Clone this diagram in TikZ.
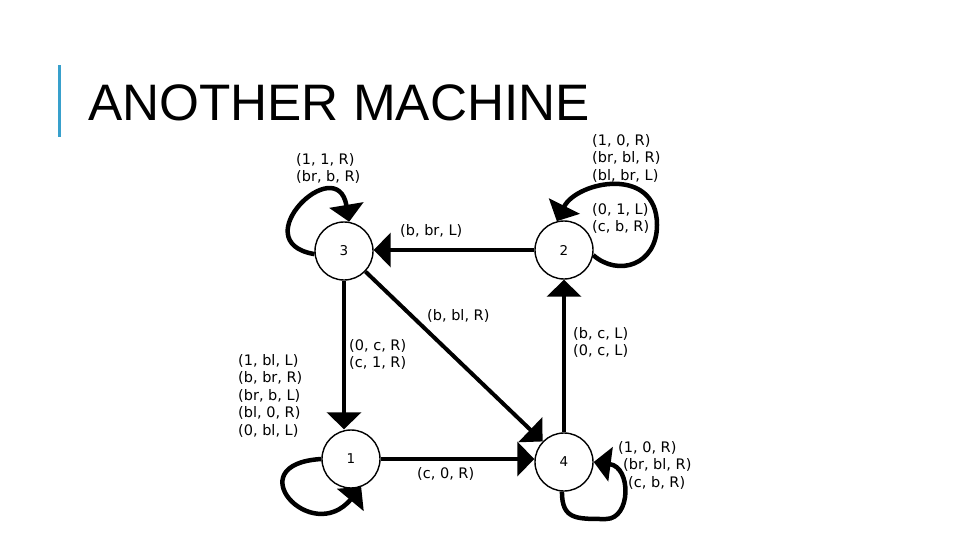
\documentclass[tikz,border=0pt]{standalone}
\usepackage{fontspec}
\setmainfont{DejaVu Sans}
\newfontfamily\titlefont{Liberation Sans}
\usetikzlibrary{arrows.meta}
\definecolor{barblue}{RGB}{56,160,204}
\begin{document}
\begin{tikzpicture}[x=1pt,y=-1pt,
  state/.style={circle,draw,line width=1.4pt,fill=white,minimum size=58pt,inner sep=0pt,font=\fontsize{13.5}{15}\selectfont},
  edge/.style={line width=4pt,-{Triangle[width=34pt,length=17pt]}},
  loopedge/.style={line width=4.5pt,line join=round,-{Triangle[width=34pt,length=17pt]}},
  lbl/.style={anchor=north west,inner sep=0pt,align=left,font=\fontsize{14.5}{17.5}\selectfont}]
\fill[white] (0,0) rectangle (960,540);
\useasboundingbox (0,0) rectangle (960,540);
% title
\fill[barblue] (57.5,65) rectangle (60.5,137);
\node[anchor=base west,inner sep=0pt,font=\titlefont\fontsize{51.3}{60}\selectfont] (title) at (88,121) {ANOTHER MACHINE};
% states
\node[state] (n3) at (344,251) {3};
\node[state] (n2) at (564,250) {2};
\node[state] (n1) at (351,459) {1};
\node[state] (n4) at (564,462) {4};
% straight edges
\draw[edge] (n2.west) -- (n2.west -| n3.east);
\draw[edge] (n3.south) -- (n3.south |- n1.north);
\draw[edge] (n3) -- (n4);
\draw[edge] (n1.east) -- (n1.east -| n4.west);
\draw[edge] (n4.north) -- (n2.south);
% self loops
\coordinate (l2) at (657,225);
\coordinate (l4) at (606,519);
\draw[loopedge] (n3.186) .. controls +(-72,-12) and +(-12,-72) .. (n3.80);
\draw[loopedge] (n2.-10) .. controls +(25,22) and +(0,40) .. (l2) .. controls +(0,-60) and +(20,-40) .. (n2.104);
\draw[loopedge] (n1.180) .. controls +(-85,5) and +(-50,60) .. (n1.-70);
\draw[loopedge] (n4.266) .. controls +(0,28) and +(-30,0) .. (l4) .. controls +(25,0) and +(38,5) .. (n4.east);
% labels
\node[lbl] (t3) at (296,153) {(1, 1, R)\\(br, b, R)};
\node[lbl] (t23) at (400,224) {(b, br, L)};
\node[lbl] (t2a) at (592,134) {(1, 0, R)\\(br, bl, R)\\(bl, br, L)};
\node[lbl] (t2b) at (592,203) {(0, 1, L)\\(c, b, R)};
\node[lbl] (t34) at (427,309) {(b, bl, R)};
\node[lbl] (t31) at (349,339) {(0, c, R)\\(c, 1, R)};
\node[lbl] (t42) at (573,327) {(b, c, L)\\(0, c, L)};
\node[lbl] (t14) at (417,467) {(c, 0, R)};
\node[lbl] (t1) at (238,354) {(1, bl, L)\\(b, br, R)\\(br, b, L)\\(bl, 0, R)\\(0, bl, L)};
\node[lbl] (t4) at (618,441) {(1, 0, R)\\\hspace*{5pt}(br, bl, R)\\\hspace*{10pt}(c, b, R)};
\end{tikzpicture}
\end{document}
